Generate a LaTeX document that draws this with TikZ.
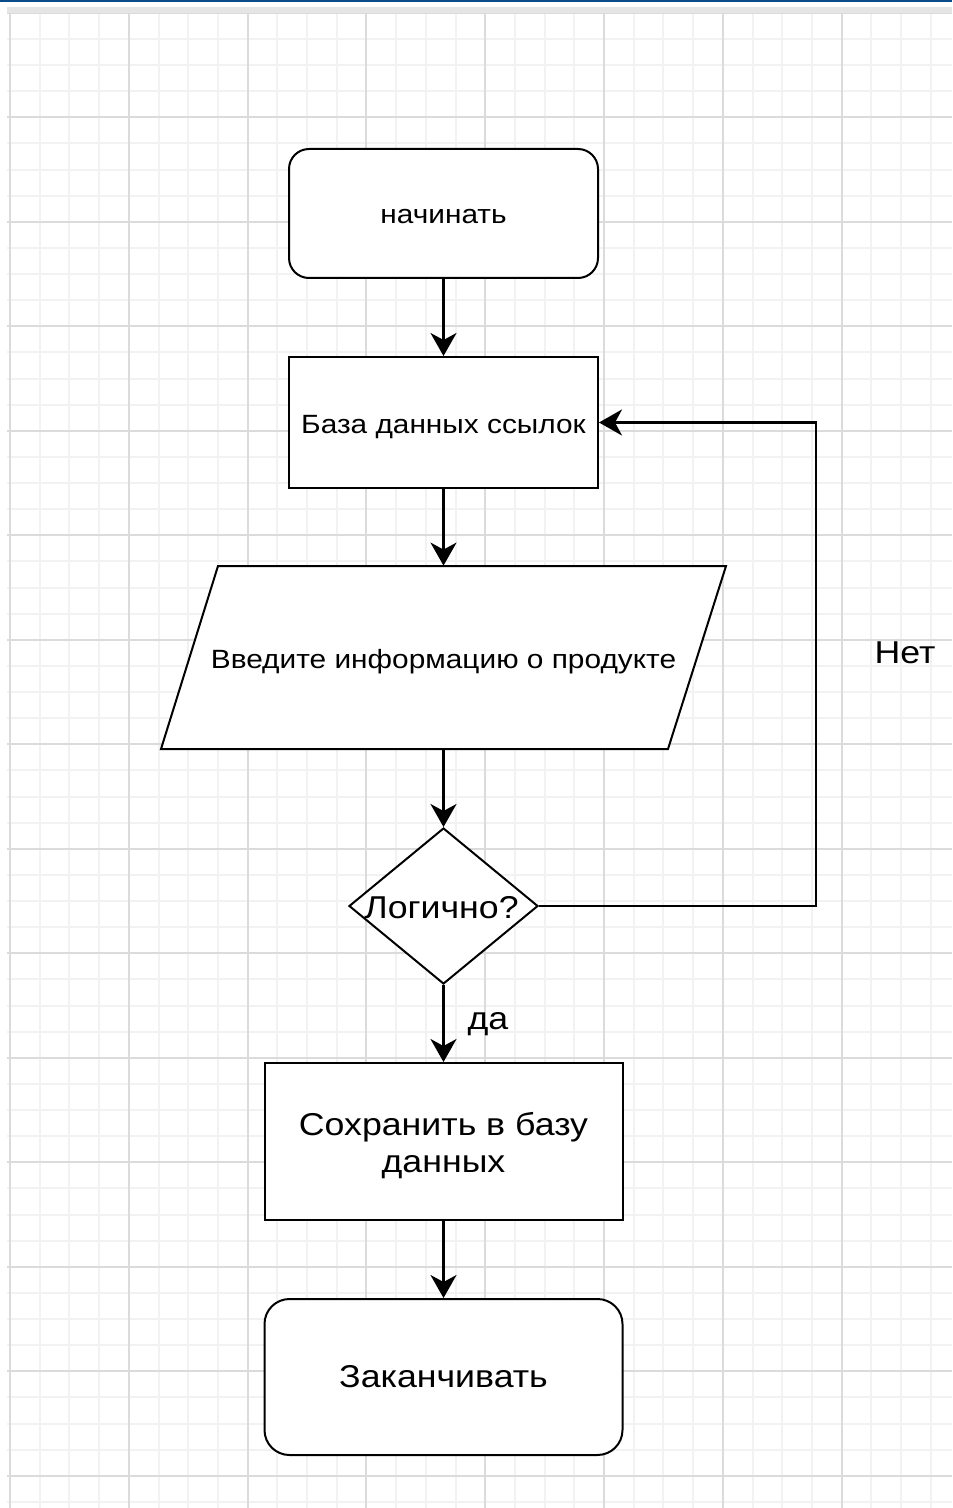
\documentclass[tikz,border=0pt]{standalone}
\usepackage{fontspec}
\setmainfont{Liberation Sans}[FakeStretch=1.13]
\usetikzlibrary{arrows.meta,shapes.geometric,calc}
\definecolor{topblue}{HTML}{0B4A8B}
\begin{document}
\begin{tikzpicture}[x=0.5pt,y=-0.5pt,
  box/.style={draw=black, line width=1pt, fill=white, inner sep=0pt},
  edge/.style={line width=1.25pt, -{Stealth[length=11.5pt,width=13pt,inset=3.5pt]}},
  small/.style={font=\fontsize{13.2}{15.8}\selectfont},
  large/.style={font=\fontsize{15.8}{18.5}\selectfont},
  lowtext/.style={text height=1.05em, text depth=0pt},
  minorline/.style={draw=black!5, line width=1pt},
  majorline/.style={draw=black!14, line width=1pt}]
\useasboundingbox (0,0) rectangle (952,1508);
\fill[white] (0,0) rectangle (952,1508);
\fill[topblue] (0,0) rectangle (952,2.5);
% grid
\foreach \i in {0,...,31} \draw[minorline] ({10+29.7*\i},7) -- ({10+29.7*\i},1508);
\foreach \j in {0,...,57} \draw[minorline] (7,{12.8+26.125*\j}) -- (952,{12.8+26.125*\j});
\foreach \i in {0,...,7} \draw[majorline] ({10+118.8*\i},7) -- ({10+118.8*\i},1508);
\foreach \j in {0,...,14} \draw[majorline] (7,{12.8+104.5*\j}) -- (952,{12.8+104.5*\j});
\draw[draw=black!10, line width=3pt] (7,10) -- (952,10);
% nodes
\node[box, rounded corners=10pt, minimum width=154.5pt, minimum height=64.5pt, small, lowtext] (start) at (443.5,213.5) {начинать};
\node[box, minimum width=154.5pt, minimum height=65.5pt, small, lowtext] (base) at (443.5,422.5) {База данных ссылок};
\coordinate (inpc) at (443.5,657.5);
\draw[box] ($(inpc)+(-225.5,-91.5)$) -- ($(inpc)+(282.5,-91.5)$) -- ($(inpc)+(224.5,91.5)$) -- ($(inpc)+(-282.5,91.5)$) -- cycle;
\node[inner sep=0pt, minimum width=230pt, minimum height=91.5pt, small, lowtext] (inp) at (inpc) {Введите информацию о продукте};
\node[box, diamond, minimum width=94.5pt, minimum height=78pt] (dec) at (443.5,906) {};
\node[large, inner sep=0pt] (dectext) at ($(dec.center)+(-2,2)$) {Логично?};
\node[box, minimum width=179pt, minimum height=78.5pt] (save) at (443.5,1141.5) {};
\node[large, align=center, inner sep=0pt] (savetext) at ($(save.center)+(0,4)$) {Сохранить в базу\\данных};
\node[box, rounded corners=12.5pt, minimum width=179pt, minimum height=78pt, large] (finish) at (443.5,1377) {Заканчивать};
% edges
\draw[edge] (start.south) -- (base.north);
\draw[edge] (base.south) -- (inp.north);
\draw[edge] (inp.south) -- (dec.north);
\draw[edge] (dec.south) -- (save.north);
\draw[edge] (save.south) -- (finish.north);
\coordinate (loopx) at (816,906);
\draw[edge] (dec.east) -- (loopx) |- (base.east);
% labels
\node[large] (yes) at (488,1024) {да};
\node[large] (no) at (905,653) {Нет};
\end{tikzpicture}
\end{document}
